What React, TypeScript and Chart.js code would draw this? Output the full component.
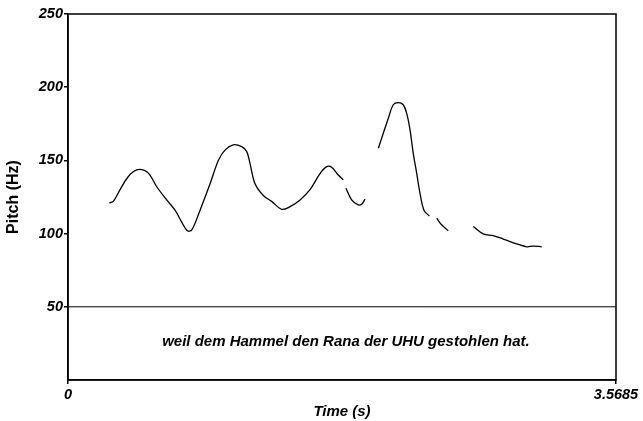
import React, { useEffect, useRef } from "react";
import { Chart, registerables } from "chart.js";

Chart.register(...registerables);

// Pitch contour (null pitch = unvoiced gap)
const timeS = [
  0.269, 0.295, 0.339, 0.393, 0.447, 0.501, 0.534, 0.578, 0.643, 0.697, 0.74, 0.777, 0.806,
  0.86, 0.925, 0.979, 1.022, 1.076, 1.131, 1.164, 1.185, 1.218, 1.272, 1.326, 1.392, 1.446,
  1.511, 1.576, 1.641, 1.685, 1.717, 1.76, 1.793,
  1.801,
  1.81, 1.847, 1.89, 1.912, 1.934,
  1.98,
  2.021, 2.053, 2.086, 2.118, 2.151, 2.183, 2.206, 2.227, 2.248, 2.271, 2.292, 2.318, 2.353,
  2.38,
  2.401, 2.433, 2.476,
  2.55,
  2.639, 2.704, 2.769, 2.834, 2.922, 2.987, 3.03, 3.085,
];
const pitchHz = [
  121, 122, 130, 139, 143.5, 143, 140, 132, 123, 116, 108, 102, 102.5,
  116, 134, 150, 157, 160.6, 159.4, 156, 148, 134, 126, 122, 116.6, 118.4,
  123, 130, 141, 145.7, 145.3, 140, 136.7,
  null,
  131, 123, 119.6, 120, 123.5,
  null,
  158.3, 168.5, 178.8, 188, 189.5, 188, 182, 171, 155, 141, 127.6, 116, 112,
  null,
  110.5, 106, 102,
  null,
  104.8, 99.8, 98.6, 96.3, 93, 91, 91.5, 91,
];

const xTicks = [0, 3.5685];
const yTicks = [50, 100, 150, 200, 250];
const xMax = 3.5685;
const yMax = 250;
const refLineHz = 50;
const sentence = "weil dem Hammel den Rana der UHU gestohlen hat.";
const sentenceTime = 1.81;
const sentenceHz = 26;

const FONT = "'Liberation Sans', Arial, Helvetica, sans-serif";

export default function App() {
  const ref = useRef<HTMLCanvasElement | null>(null);

  useEffect(() => {
    if (!ref.current) return;
    const contour = timeS.map((t, i) => ({ x: t, y: pitchHz[i] }));
    const refLine = [
      { x: 0, y: refLineHz },
      { x: xMax, y: refLineHz },
    ];

    const framePlugin = {
      id: "frameAndText",
      afterDatasetsDraw(chart: any) {
        const { ctx, chartArea, scales } = chart;
        ctx.save();
        ctx.fillStyle = "#000";
        ctx.font = `italic bold 15px ${FONT}`;
        ctx.textAlign = "center";
        ctx.textBaseline = "middle";
        ctx.fillText(
          sentence,
          scales.x.getPixelForValue(sentenceTime),
          scales.y.getPixelForValue(sentenceHz)
        );
        ctx.strokeStyle = "#000";
        ctx.lineWidth = 1.5;
        ctx.strokeRect(
          chartArea.left,
          chartArea.top,
          chartArea.right - chartArea.left,
          chartArea.bottom - chartArea.top
        );
        ctx.restore();
      },
    };

    const chart = new Chart(ref.current, {
      type: "line",
      data: {
        datasets: [
          {
            data: contour,
            borderColor: "#000",
            borderWidth: 1.3,
            pointRadius: 0,
            tension: 0.35,
            spanGaps: false,
          },
          {
            data: refLine,
            borderColor: "#000",
            borderWidth: 1,
            pointRadius: 0,
          },
        ],
      },
      options: {
        animation: false,
        responsive: false,
        maintainAspectRatio: false,
        layout: { padding: { top: 14, right: 27, left: 0, bottom: 0 } },
        plugins: { legend: { display: false }, tooltip: { enabled: false } },
        scales: {
          x: {
            type: "linear",
            min: 0,
            max: xMax,
            afterBuildTicks: (s: any) => {
              s.ticks = xTicks.map((v) => ({ value: v }));
            },
            afterFit: (s: any) => {
              s.height = 41;
            },
            grid: {
              display: true,
              drawOnChartArea: false,
              drawTicks: true,
              tickLength: 4,
              color: "#000",
              lineWidth: 1.5,
            },
            border: { display: true, color: "#000", width: 1.5 },
            ticks: {
              autoSkip: false,
              maxRotation: 0,
              padding: 2,
              color: "#000",
              font: { family: FONT, size: 14.5, weight: "bold", style: "italic" },
              callback: (v: any) => String(v),
            },
            title: {
              display: true,
              text: "Time (s)",
              color: "#000",
              padding: { top: 0, bottom: 0 },
              font: { family: FONT, size: 15, weight: "bold", style: "italic" },
            },
          },
          y: {
            type: "linear",
            min: 0,
            max: yMax,
            afterBuildTicks: (s: any) => {
              s.ticks = yTicks.map((v) => ({ value: v }));
            },
            afterFit: (s: any) => {
              s.width = 68;
            },
            grid: {
              display: true,
              drawOnChartArea: false,
              drawTicks: true,
              tickLength: 4,
              color: "#000",
              lineWidth: 1.5,
            },
            border: { display: true, color: "#000", width: 1.5 },
            ticks: {
              padding: 1,
              color: "#000",
              font: { family: FONT, size: 14.5, weight: "bold", style: "italic" },
            },
            title: {
              display: true,
              text: "Pitch (Hz)",
              color: "#000",
              padding: { top: 4, bottom: 0 },
              font: { family: FONT, size: 16, weight: "bold" },
            },
          },
        },
      },
      plugins: [framePlugin],
    } as any);

    return () => chart.destroy();
  }, []);

  return (
    <div style={{ position: "fixed", left: 0, top: 0, width: 643, height: 421, background: "#fff" }}>
      <canvas ref={ref} width={643} height={421} style={{ width: 643, height: 421, display: "block" }} />
    </div>
  );
}
